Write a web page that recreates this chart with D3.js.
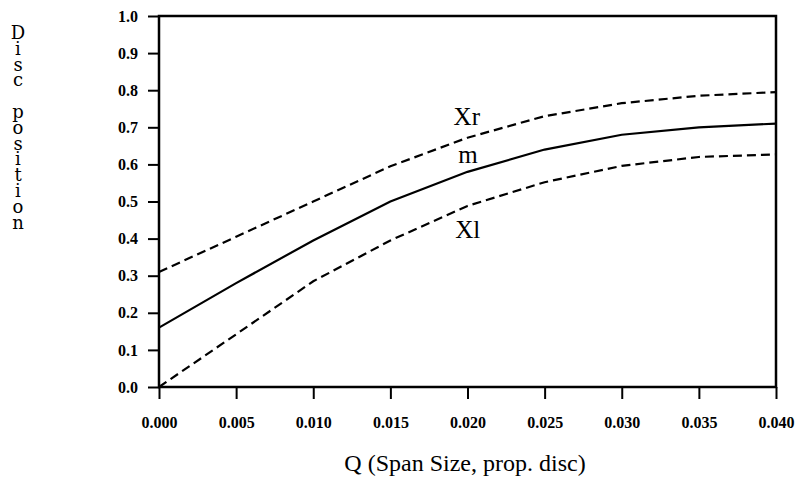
<!DOCTYPE html>
<html>
<head>
<meta charset="utf-8">
<script src="https://cdn.jsdelivr.net/npm/d3@7"></script>
<style>
  body { margin: 0; background: #fff; }
  svg { display: block; }
</style>
</head>
<body>
<div id="chart"></div>
<script>
// Disc position vs span size

const qValues = [0.000, 0.005, 0.010, 0.015, 0.020, 0.025, 0.030, 0.035, 0.040];
const mValues = [0.16, 0.28, 0.395, 0.50, 0.58, 0.64, 0.68, 0.70, 0.71];
const xrValues = [0.31, 0.405, 0.50, 0.595, 0.672, 0.73, 0.765, 0.785, 0.795];
const xlValues = [0.0, 0.142, 0.285, 0.395, 0.488, 0.552, 0.596, 0.62, 0.627];

const xTicks = [0, 0.005, 0.01, 0.015, 0.02, 0.025, 0.03, 0.035, 0.04];
const yTicks = [0, 0.1, 0.2, 0.3, 0.4, 0.5, 0.6, 0.7, 0.8, 0.9, 1.0];
const yTitle = 'Disc position';
const xTitle = 'Q (Span Size, prop. disc)';

const labels = [
  { text: 'Xr', q: 0.0191, v: 0.705 },
  { text: 'm', q: 0.0194, v: 0.605 },
  { text: 'Xl', q: 0.0192, v: 0.402 }
];

const width = 797, height = 493;
const svg = d3.select('#chart').append('svg')
  .attr('width', width)
  .attr('height', height);

const x = d3.scaleLinear().domain([0, 0.04]).range([159, 776]);
const y = d3.scaleLinear().domain([0, 1]).range([387, 16]);

const tickFont = '"Liberation Serif", serif';

// axes
const xAxis = d3.axisBottom(x).tickValues(xTicks).tickSize(12).tickPadding(18)
  .tickFormat(d3.format('.3f'));
const gx = svg.append('g').attr('transform', `translate(0,${y(0)})`).call(xAxis);

const yAxis = d3.axisLeft(y).tickValues(yTicks).tickSize(11).tickPadding(10)
  .tickFormat(d3.format('.1f'));
const gy = svg.append('g').attr('transform', `translate(${x(0)},0)`).call(yAxis);

[gx, gy].forEach(g => {
  g.select('.domain').remove();
  g.selectAll('line').attr('stroke', '#000').attr('stroke-width', 2);
  g.selectAll('text')
    .attr('fill', '#000')
    .attr('font-family', tickFont)
    .attr('font-weight', 'bold')
    .attr('font-size', 16);
});

// frame
svg.append('rect')
  .attr('x', x(0)).attr('y', y(1))
  .attr('width', x(0.04) - x(0)).attr('height', y(0) - y(1))
  .attr('fill', 'none')
  .attr('stroke', '#000')
  .attr('stroke-width', 2.5);

// lines
const line = d3.line()
  .x((d, i) => x(qValues[i]))
  .y(d => y(d));

const series = [
  { values: xrValues, dash: '9 5' },
  { values: mValues, dash: null },
  { values: xlValues, dash: '9 5' }
];

series.forEach(s => {
  svg.append('path')
    .datum(s.values)
    .attr('fill', 'none')
    .attr('stroke', '#000')
    .attr('stroke-width', 2.2)
    .attr('stroke-dasharray', s.dash)
    .attr('d', line);
});

// curve labels
svg.selectAll('.curve-label')
  .data(labels)
  .enter()
  .append('text')
  .attr('class', 'curve-label')
  .attr('x', d => x(d.q))
  .attr('y', d => y(d.v))
  .attr('font-family', '"Liberation Serif", serif')
  .attr('font-size', 25)
  .attr('fill', '#000')
  .text(d => d.text);

// y title, one letter per row (single text element, tspans)
const yt = svg.append('text')
  .attr('x', 18)
  .attr('y', 39)
  .attr('text-anchor', 'middle')
  .attr('font-family', '"DejaVu Serif", serif')
  .attr('font-size', 18)
  .attr('fill', '#000');
yt.selectAll('tspan')
  .data(yTitle.split(''))
  .enter()
  .append('tspan')
  .attr('x', 18)
  .attr('dy', (d, i) => i === 0 ? 0 : 15.8)
  .text(d => d === ' ' ? '\u00a0' : d);

// x title
svg.append('text')
  .attr('x', 465)
  .attr('y', 471)
  .attr('text-anchor', 'middle')
  .attr('font-family', '"Liberation Serif", serif')
  .attr('font-size', 24)
  .attr('fill', '#000')
  .text(xTitle);
</script>
</body>
</html>
